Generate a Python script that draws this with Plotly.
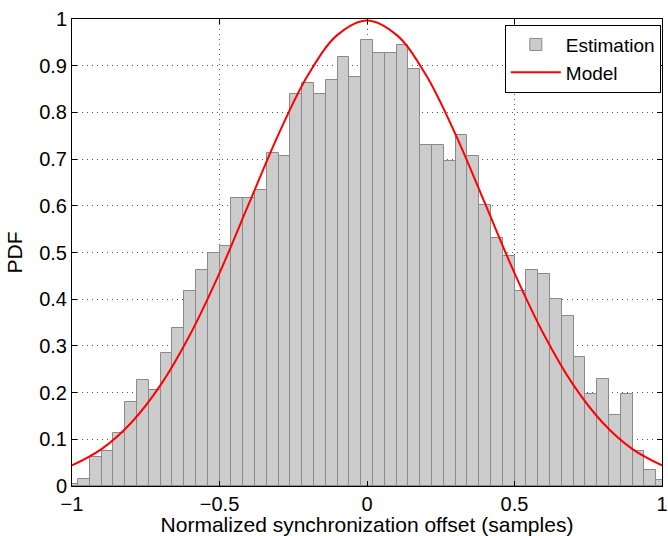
import plotly.graph_objects as go

# Histogram bin centres (-1 .. 1 step 0.04) and estimated PDF heights
bin_centers = [round(-1 + 0.04 * k, 2) for k in range(51)]
est_pdf = [0.004, 0.016, 0.063, 0.075, 0.113, 0.179, 0.226, 0.206, 0.284, 0.338,
           0.417, 0.463, 0.500, 0.513, 0.617, 0.617, 0.634, 0.714, 0.706, 0.839,
           0.864, 0.839, 0.869, 0.918, 0.876, 0.956, 0.927, 0.927, 0.944, 0.893,
           0.730, 0.730, 0.697, 0.751, 0.706, 0.601, 0.530, 0.492, 0.417, 0.463,
           0.455, 0.400, 0.363, 0.276, 0.196, 0.229, 0.151, 0.196, 0.075, 0.034,
           0.013]

# Model curve
model_x = [-1.0, -0.9, -0.8, -0.7, -0.6, -0.5, -0.4, -0.3, -0.2, -0.1, 0.0,
           0.1, 0.2, 0.3, 0.4, 0.5, 0.6, 0.7, 0.8, 0.9, 1.0]
model_y = [0.044, 0.079, 0.135, 0.216, 0.324, 0.456, 0.605, 0.753, 0.880, 0.966, 0.997,
           0.966, 0.880, 0.753, 0.605, 0.456, 0.324, 0.216, 0.135, 0.079, 0.044]

x_ticks = [-1, -0.5, 0, 0.5, 1]
x_tick_text = ["\u22121", "\u22120.5", "0", "0.5", "1"]
y_ticks = [0, 0.1, 0.2, 0.3, 0.4, 0.5, 0.6, 0.7, 0.8, 0.9, 1]
y_tick_text = ["0", "0.1", "0.2", "0.3", "0.4", "0.5", "0.6", "0.7", "0.8", "0.9", "1"]

font_family = "Liberation Sans, Arial, Helvetica, sans-serif"

fig = go.Figure()
fig.add_trace(go.Bar(
    x=bin_centers, y=est_pdf, width=0.04, name="Estimation",
    marker=dict(color="#cccccc", line=dict(color="#8a8a8a", width=1)),
))
fig.add_trace(go.Scatter(
    x=model_x, y=model_y, mode="lines", name="Model",
    line=dict(color="#ff0000", width=2, shape="spline", smoothing=1.0),
))

axis_common = dict(
    showline=True, linecolor="black", linewidth=1, mirror="ticks",
    ticks="inside", ticklen=5, tickcolor="black",
    showgrid=True, gridcolor="#555555", griddash="1px,4px", gridwidth=1,
    zeroline=False, ticklabeloverflow="allow", automargin=False,
    tickfont=dict(size=20, color="black", family=font_family),
)

fig.update_layout(
    width=668, height=536,
    margin=dict(l=72, r=6, t=19, b=50),
    paper_bgcolor="white", plot_bgcolor="white",
    bargap=0, showlegend=True,
    font=dict(family=font_family, color="black", size=20),
    legend=dict(
        x=0.998, y=0.988, xanchor="right", yanchor="top",
        bgcolor="white", bordercolor="black", borderwidth=1,
        font=dict(size=19, color="black", family=font_family),
        tracegroupgap=0, itemwidth=50,
    ),
    xaxis=dict(range=[-1, 1], tickvals=x_ticks, ticktext=x_tick_text,
               title=dict(text="Normalized synchronization offset (samples)",
                          font=dict(size=21), standoff=0),
               **axis_common),
    yaxis=dict(range=[0, 1], tickvals=y_ticks, ticktext=y_tick_text,
               title=dict(text="PDF", font=dict(size=21), standoff=10),
               **axis_common),
)

fig.write_html("out.html")
